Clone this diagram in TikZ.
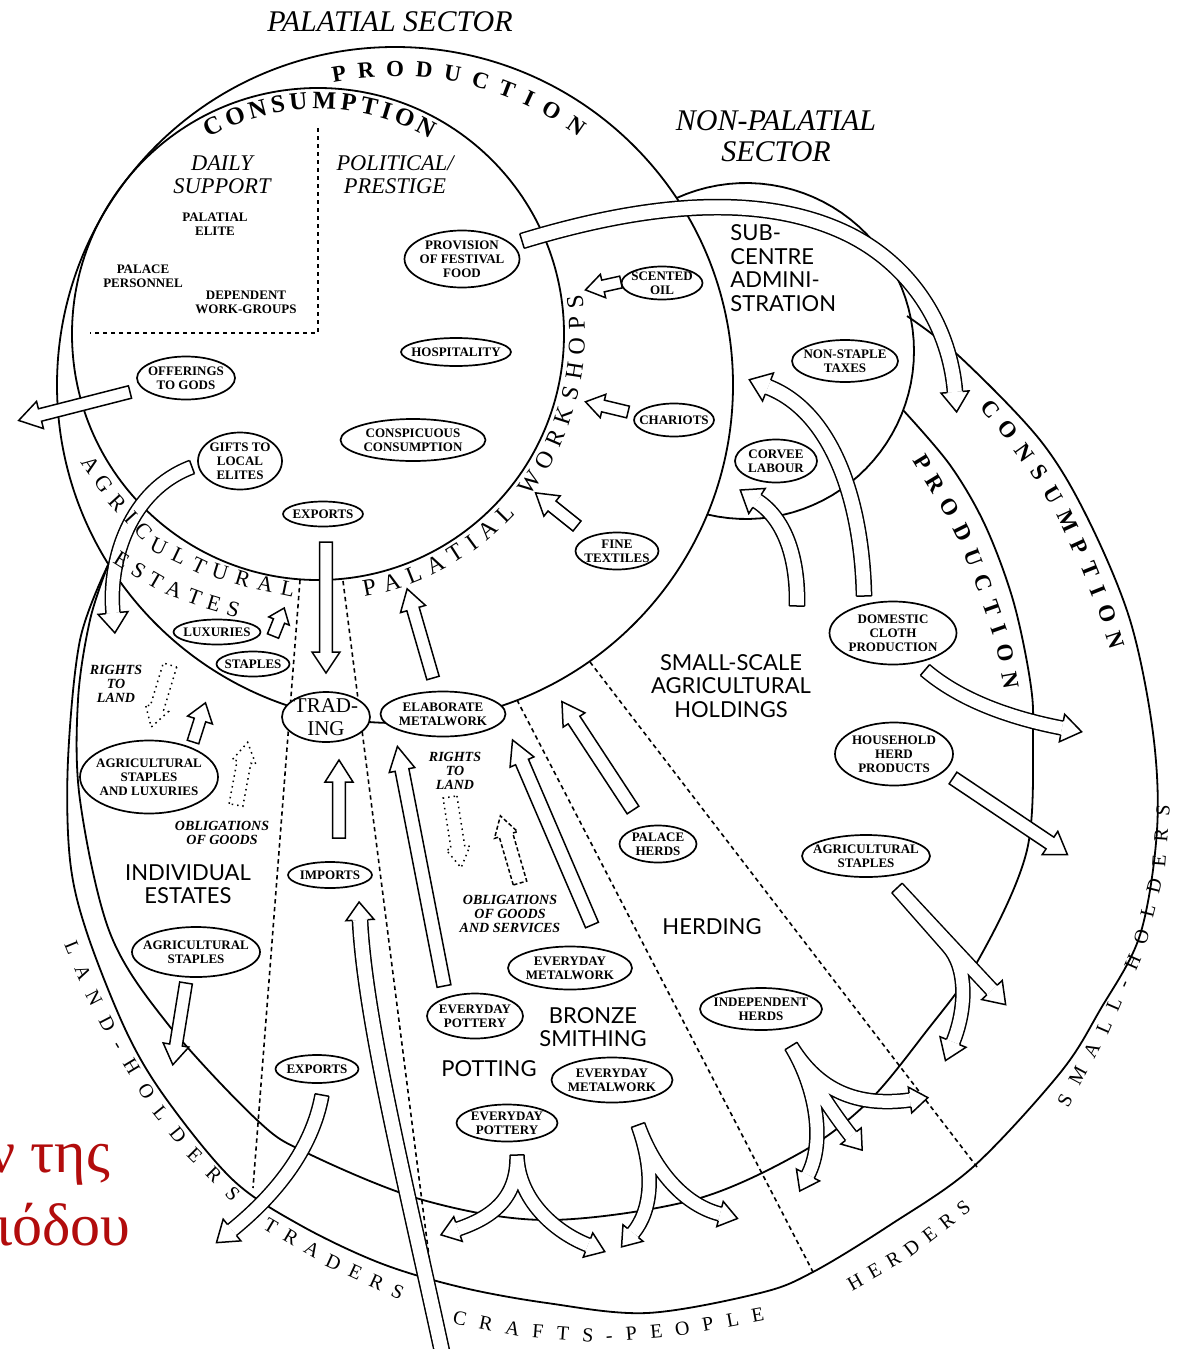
\documentclass[tikz,border=0pt]{standalone}
\usepackage{fontspec}
\setmainfont{Liberation Serif}
\newfontfamily\latof{Lato}
\usetikzlibrary{shapes.geometric,decorations.text,calc}
\definecolor{grk}{RGB}{178,12,12}
\newcommand\olw{0.75pt}
\newcommand\elf{\fontsize{6.5}{7}\selectfont\bfseries}
\newcommand\titf{\fontsize{15}{15.5}\selectfont\itshape}
\newcommand\itf{\fontsize{11.2}{11.6}\selectfont\itshape}
\newcommand\bigf{\latof\fontsize{11}{11.8}\selectfont}
\newcommand\smi{\fontsize{7}{7}\selectfont\bfseries\itshape}
\newcommand\grkf{\fontsize{30}{30}\selectfont}
\newcommand\bandB{\fontsize{11.5}{12}\selectfont\bfseries}
\newcommand\bandC{\fontsize{12.5}{13}\selectfont\bfseries}
\newcommand\bandR{\fontsize{12}{12}\selectfont}
\newcommand\bandS{\fontsize{11}{11}\selectfont}
\newcommand\bandO{\fontsize{10}{10}\selectfont}
% arrow head: s, h, L, E, back point
\newcommand\AH[5]{%
 \fill[white] ($(#4)!#1!90:(#5)$) -- ($(#4)!#2!90:(#5)$) -- ($(#4)!-#3!(#5)$) -- ($(#4)!#2!-90:(#5)$) -- ($(#4)!#1!-90:(#5)$) -- cycle;
 \draw[line width=\olw, line join=miter] ($(#4)!#1!90:(#5)$) -- ($(#4)!#2!90:(#5)$) -- ($(#4)!-#3!(#5)$) -- ($(#4)!#2!-90:(#5)$) -- ($(#4)!#1!-90:(#5)$);
}
% curved shaft(s): s, path, S, forward point
\newcommand\FORK[4]{%
 \draw[line width={2*#1+\olw}] #2;
 \draw[white, line width={2*#1-\olw}] #2;
 \draw[line width=\olw, line cap=square] ($(#3)!#1!90:(#4)$) -- ($(#3)!#1!-90:(#4)$);
}
% straight block arrow: s, h, L, S, E, style
\newcommand\SA[6]{%
 \draw[line width=\olw, fill=white, line join=miter, #6] ($(#4)!#1!90:(#5)$) -- ($(#5)!#1!-90:(#4)$) -- ($(#5)!#2!-90:(#4)$) -- ($(#5)!-#3!(#4)$) -- ($(#5)!#2!90:(#4)$) -- ($(#5)!#1!90:(#4)$) -- ($(#4)!#1!-90:(#5)$) -- cycle;
}
\begin{document}
\begin{tikzpicture}[x=0.5pt,y=-0.5pt,
 ln/.style={line width=0.9pt},
 dsh/.style={line width=0.8pt, dash pattern=on 2.2pt off 1.8pt},
 el/.style={draw, ellipse, fill=white, line width=0.85pt, inner xsep=-20pt, inner ysep=-10pt, align=center, font=\elf},
 lab/.style={align=center, inner sep=0pt}]
\useasboundingbox (0,0) rectangle (1178,1349);
\fill[white] (0,0) rectangle (1178,1349);

% ---------- main outlines ----------
\draw[ln] (318,334) circle[radius=123pt];
\draw[ln] (395,385) circle[radius=169pt];
\draw[ln] plot[domain=-114.4:103.4, samples=60] ({746+168*cos(\x)},{351+168*sin(\x)});
\draw[ln] plot[smooth, tension=0.55] coordinates {(907,316) (960,357) (1040,440) (1087,517) (1130,620) (1153,733) (1157,830) (1140,935) (1100,1010) (1060,1073) (973,1167) (890,1225) (813,1272) (760,1293) (647,1313) (547,1303) (460,1287) (380,1263) (300,1225) (233,1180) (167,1100) (127,1033) (87,933) (70,860) (68,760) (80,640) (108,565)};
\draw[ln] plot[smooth, tension=0.55] coordinates {(903,410) (950,465) (985,525) (1013,600) (1030,680) (1033,733) (1027,850) (980,957) (925,1033) (867,1103) (800,1153) (693,1200) (547,1220) (423,1200) (307,1153) (257,1120) (167,1023) (110,933) (80,800) (78,700) (90,620) (108,565)};

% dashed
\draw[dsh] (318,128) -- (318,333) -- (90,333);
\draw[dsh] (300,580) -- (253,1188);
\draw[dsh] (343,581) -- (432,1280);
\draw[dsh] (517,700) -- (813,1272);
\draw[dsh] (590,662) -- (977,1167);

% ---------- arrows ----------
\SA{3.2pt}{7pt}{10.5pt}{326,542}{326,652}{}
\SA{3.2pt}{7pt}{11pt}{339,838}{339,782}{}
\SA{3.2pt}{6.5pt}{10.5pt}{433,678}{413,609}{}
\SA{3.2pt}{6.5pt}{10.5pt}{577,526}{552,506}{}
\SA{3pt}{6pt}{9pt}{628,412}{603,406}{}
\SA{3pt}{6pt}{9pt}{621,282}{603,286}{}
\SA{3pt}{5.5pt}{7pt}{273,636}{279,621}{}
\SA{3pt}{6.5pt}{9pt}{193,742}{200,720}{}
\SA{3.5pt}{6pt}{10pt}{170,665}{157,708}{fill=none, dotted}
\SA{3.5pt}{6pt}{10pt}{236,805}{244,762}{fill=none, dotted}
\SA{3.5pt}{6pt}{10pt}{450,797}{458,848}{fill=none, dotted}
\SA{3.5pt}{6pt}{10pt}{520,883}{506,835}{fill=none, dash pattern=on 2pt off 1.2pt}
\SA{3.5pt}{6.5pt}{12pt}{444,986}{402,770}{}
\SA{3.5pt}{6.5pt}{12pt}{592,925}{522,762}{}
\SA{3.5pt}{6.5pt}{11pt}{633,810}{574,720}{}
\SA{3.2pt}{6.5pt}{10pt}{186,983}{176,1045}{}
\SA{3.2pt}{7pt}{11pt}{130,392}{40,415}{}
\SA{3.5pt}{7pt}{10.5pt}{953,778}{1050,843}{}

% imports long
\FORK{3.8pt}{(443,1356) .. controls (405,1180) and (365,1020) .. (360,920)}{443,1356}{405,1180}
\AH{3.8pt}{7pt}{9pt}{360,920}{365,1020}
% exports bottom
\FORK{3.5pt}{(322,1095) .. controls (312,1150) and (275,1195) .. (232,1230)}{322,1095}{312,1150}
\AH{3.5pt}{7pt}{10pt}{232,1230}{275,1195}
% gifts
\FORK{3.5pt}{(192,467) .. controls (130,490) and (108,560) .. (113,613)}{192,467}{130,490}
\AH{3.5pt}{7.5pt}{10pt}{113,613}{108,560}
% provision of festival food
\FORK{3.8pt}{(522,241) .. controls (640,205) and (760,190) .. (850,235) .. controls (915,268) and (950,330) .. (955,392)}{522,241}{640,205}
\AH{3.8pt}{7pt}{10pt}{955,392}{950,330}
% non-staple taxes
\FORK{3.8pt}{(864,596) .. controls (862,500) and (832,412) .. (768,387)}{864,596}{862,500}
\AH{3.8pt}{7.5pt}{10pt}{768,387}{832,412}
% corvee labour
\FORK{3.8pt}{(797,606) .. controls (798,560) and (786,520) .. (757,501)}{797,606}{798,560}
\AH{3.8pt}{7.5pt}{10pt}{757,501}{786,520}
% domestic cloth
\FORK{3.5pt}{(925,670) .. controls (960,700) and (1010,718) .. (1062,728)}{925,670}{960,700}
\AH{3.5pt}{7pt}{10pt}{1062,728}{1010,718}
% agricultural staples (right) fork
\FORK{3.5pt}{(897,888) -- (992,990) (897,888) -- (948,946) .. controls (968,968) and (966,1010) .. (953,1042)}{897,888}{992,990}
\AH{3.5pt}{7pt}{10pt}{992,990}{897,888}
\AH{3.5pt}{7pt}{10pt}{953,1042}{966,1010}
% independent herds fork
\FORK{3.5pt}{(791,1046) .. controls (815,1085) and (850,1108) .. (910,1100) (791,1046) .. controls (815,1085) and (832,1112) .. (851,1136) (791,1046) .. controls (815,1085) and (826,1140) .. (808,1175)}{791,1046}{815,1085}
\AH{3.5pt}{6.5pt}{9pt}{910,1100}{850,1108}
\AH{3.5pt}{6.5pt}{9pt}{851,1136}{832,1112}
\AH{3.5pt}{6.5pt}{9pt}{808,1175}{826,1140}
% everyday pottery fork
\FORK{3.5pt}{(517,1155) .. controls (518,1200) and (490,1218) .. (458,1229) (517,1155) .. controls (518,1200) and (555,1232) .. (588,1245)}{517,1155}{518,1200}
\AH{3.5pt}{6.5pt}{9pt}{458,1229}{490,1218}
\AH{3.5pt}{6.5pt}{9pt}{588,1245}{555,1232}
% everyday metalwork fork
\FORK{3.5pt}{(638,1125) .. controls (655,1172) and (652,1210) .. (633,1233) (638,1125) .. controls (655,1172) and (685,1205) .. (720,1214)}{638,1125}{655,1172}
\AH{3.5pt}{6.5pt}{9pt}{633,1233}{652,1210}
\AH{3.5pt}{6.5pt}{9pt}{720,1214}{685,1205}

% ---------- text along curves ----------
\path[decorate, decoration={text along path, text align={fit to path}, text={|\bandB|PRODUCTION}}] plot[domain=-101.5:-53.5, samples=40] ({395+309*cos(\x)},{385+309*sin(\x)});
\path[decorate, decoration={text along path, text align={fit to path}, text={|\bandC|CONSUMPTION}}] plot[domain=-119:-60, samples=40] ({318+225*cos(\x)},{334+225*sin(\x)});
\path[decorate, decoration={text along path, text align={fit to path}, text={|\bandB|CONSUMPTION}}] (979,407) -- (1010,445) -- (1036,481) -- (1060,522) -- (1082,570) -- (1098,610) -- (1111,650);
\path[decorate, decoration={text along path, text align={fit to path}, text={|\bandB|PRODUCTION}}] (912,460) -- (945,514) -- (962,548) -- (975,583) -- (995,640) -- (1004,690);
\path[decorate, decoration={text along path, text align={fit to path}, text={|\bandR|PALATIAL WORKSHOPS}}] plot[domain=0:88.5, samples=50] ({318+267*cos(80-\x)},{334+267*sin(80-\x)});
\path[decorate, decoration={text along path, text align={fit to path}, text={|\bandS|AGRICULTURAL}}] (80,462) -- (111,506) -- (152,551) -- (196,572) -- (245,587) -- (293,597);
\path[decorate, decoration={text along path, text align={fit to path}, text={|\bandS|ESTATES}}] (112,562) -- (139,579) -- (165,594) -- (200,607) -- (237,618);
\path[decorate, decoration={text along path, text align={fit to path}, text={|\bandO|LAND-HOLDERS}}] (64,944) -- (85,995) -- (110,1043) -- (152,1113) -- (190,1160) -- (232,1202);
\path[decorate, decoration={text along path, text align={fit to path}, text={|\bandO|TRADERS}}] (262,1228) -- (330,1268) -- (400,1300);
\path[decorate, decoration={text along path, text align={fit to path}, text={|\bandO|CRAFTS-PEOPLE}}] (452,1323) -- (520,1337) -- (600,1343) -- (680,1336) -- (765,1320);
\path[decorate, decoration={text along path, text align={fit to path}, text={|\bandO|HERDERS}}] (852,1291) -- (910,1258) -- (972,1210);
\path[decorate, decoration={text along path, text align={fit to path}, text={|\bandO|SMALL-HOLDERS}}] (1068,1108) -- (1110,1030) -- (1145,950) -- (1165,870) -- (1170,805);

% ---------- ellipses ----------
\node[el, minimum width=57.5pt, minimum height=28.5pt] (prov) at (462,259) {PROVISION\\OF FESTIVAL\\FOOD};
\node[el, minimum width=40.5pt, minimum height=16.5pt] (scent) at (662,283) {SCENTED\\OIL};
\node[el, minimum width=55pt, minimum height=14pt] (hosp) at (456,352) {HOSPITALITY};
\node[el, minimum width=40pt, minimum height=16.5pt] (char) at (674,420) {CHARIOTS};
\node[el, minimum width=72.5pt, minimum height=21pt] (consp) at (413,440) {CONSPICUOUS\\CONSUMPTION};
\node[el, minimum width=49pt, minimum height=21.5pt] (offer) at (186,378) {OFFERINGS\\TO GODS};
\node[el, minimum width=42pt, minimum height=28.5pt] (gifts) at (240,461) {GIFTS TO\\LOCAL\\ELITES};
\node[el, minimum width=40pt, minimum height=12.5pt] (expa) at (323,514) {EXPORTS};
\node[el, minimum width=41.5pt, minimum height=18.5pt] (fine) at (617,551) {FINE\\TEXTILES};
\node[el, minimum width=43.5pt, minimum height=12.5pt] (lux) at (217,632) {LUXURIES};
\node[el, minimum width=36.5pt, minimum height=12.5pt] (stap) at (253,664) {STAPLES};
\node[el, minimum width=44pt, minimum height=25pt, font=\fontsize{10.5}{11.5}\selectfont] (trad) at (326,717) {TRAD-\\ING};
\node[el, minimum width=62.5pt, minimum height=22.5pt] (elab) at (443,714) {ELABORATE\\METALWORK};
\node[el, minimum width=69pt, minimum height=36.5pt] (asl) at (149,777) {AGRICULTURAL\\STAPLES\\AND LUXURIES};
\node[el, minimum width=42pt, minimum height=13pt] (imp) at (330,875) {IMPORTS};
\node[el, minimum width=38.5pt, minimum height=18.5pt] (pherd) at (658,844) {PALACE\\HERDS};
\node[el, minimum width=64pt, minimum height=25pt] (asa) at (196,952) {AGRICULTURAL\\STAPLES};
\node[el, minimum width=41.5pt, minimum height=14pt] (expb) at (317,1069) {EXPORTS};
\node[el, minimum width=62pt, minimum height=21.5pt] (ema) at (570,968) {EVERYDAY\\METALWORK};
\node[el, minimum width=48pt, minimum height=22.5pt] (epa) at (475,1016) {EVERYDAY\\POTTERY};
\node[el, minimum width=60.5pt, minimum height=22.5pt] (emb) at (612,1080) {EVERYDAY\\METALWORK};
\node[el, minimum width=50.5pt, minimum height=18.5pt] (epb) at (507,1123) {EVERYDAY\\POTTERY};
\node[el, minimum width=61pt, minimum height=21pt] (ind) at (761,1009) {INDEPENDENT\\HERDS};
\node[el, minimum width=53pt, minimum height=21pt] (nst) at (845,361) {NON-STAPLE\\TAXES};
\node[el, minimum width=41pt, minimum height=21.5pt] (corv) at (776,461) {CORVEE\\LABOUR};
\node[el, minimum width=63.5pt, minimum height=31.5pt] (dom) at (893,633) {DOMESTIC\\CLOTH\\PRODUCTION};
\node[el, minimum width=59pt, minimum height=31.5pt] (hh) at (894,754) {HOUSEHOLD\\HERD\\PRODUCTS};
\node[el, minimum width=64pt, minimum height=21pt] (asb) at (866,856) {AGRICULTURAL\\STAPLES};

% ---------- labels ----------
\node[lab, font=\titf] (pst) at (390,22) {PALATIAL SECTOR};
\node[lab, font=\titf] (npst) at (776,136) {NON-PALATIAL\\SECTOR};
\node[lab, font=\itf] (daily) at (222,175) {DAILY\\SUPPORT};
\node[lab, font=\itf] (polit) at (395,175) {POLITICAL/\\PRESTIGE};
\node[lab, font=\elf] (pelite) at (215,224) {PALATIAL\\ELITE};
\node[lab, font=\elf] (ppers) at (143,276) {PALACE\\PERSONNEL};
\node[lab, font=\elf] (depwg) at (246,302) {DEPENDENT\\WORK-GROUPS};
\node[lab, font=\bigf, align=left, anchor=west] (subc) at (730,268) {SUB-\\CENTRE\\ADMINI-\\STRATION};
\node[lab, font=\bigf] (ssah) at (731,686) {SMALL-SCALE\\AGRICULTURAL\\HOLDINGS};
\node[lab, font=\bigf] (indest) at (188,884) {INDIVIDUAL\\ESTATES};
\node[lab, font=\bigf] (herding) at (712,927) {HERDING};
\node[lab, font=\bigf] (bronze) at (593,1027) {BRONZE\\SMITHING};
\node[lab, font=\bigf] (potting) at (489,1069) {POTTING};
\node[lab, font=\smi] (rtla) at (116,684) {RIGHTS\\TO\\LAND};
\node[lab, font=\smi] (obla) at (222,833) {OBLIGATIONS\\OF GOODS};
\node[lab, font=\smi] (rtlb) at (455,771) {RIGHTS\\TO\\LAND};
\node[lab, font=\smi] (oblb) at (510,914) {OBLIGATIONS\\OF GOODS\\AND SERVICES};
\node[font=\grkf, text=grk, anchor=base west, inner sep=0pt] (gra) at (-12,1172) {ν της};
\node[font=\grkf, text=grk, anchor=base west, inner sep=0pt] (grb) at (-4,1245) {ιόδου};
\end{tikzpicture}
\end{document}
